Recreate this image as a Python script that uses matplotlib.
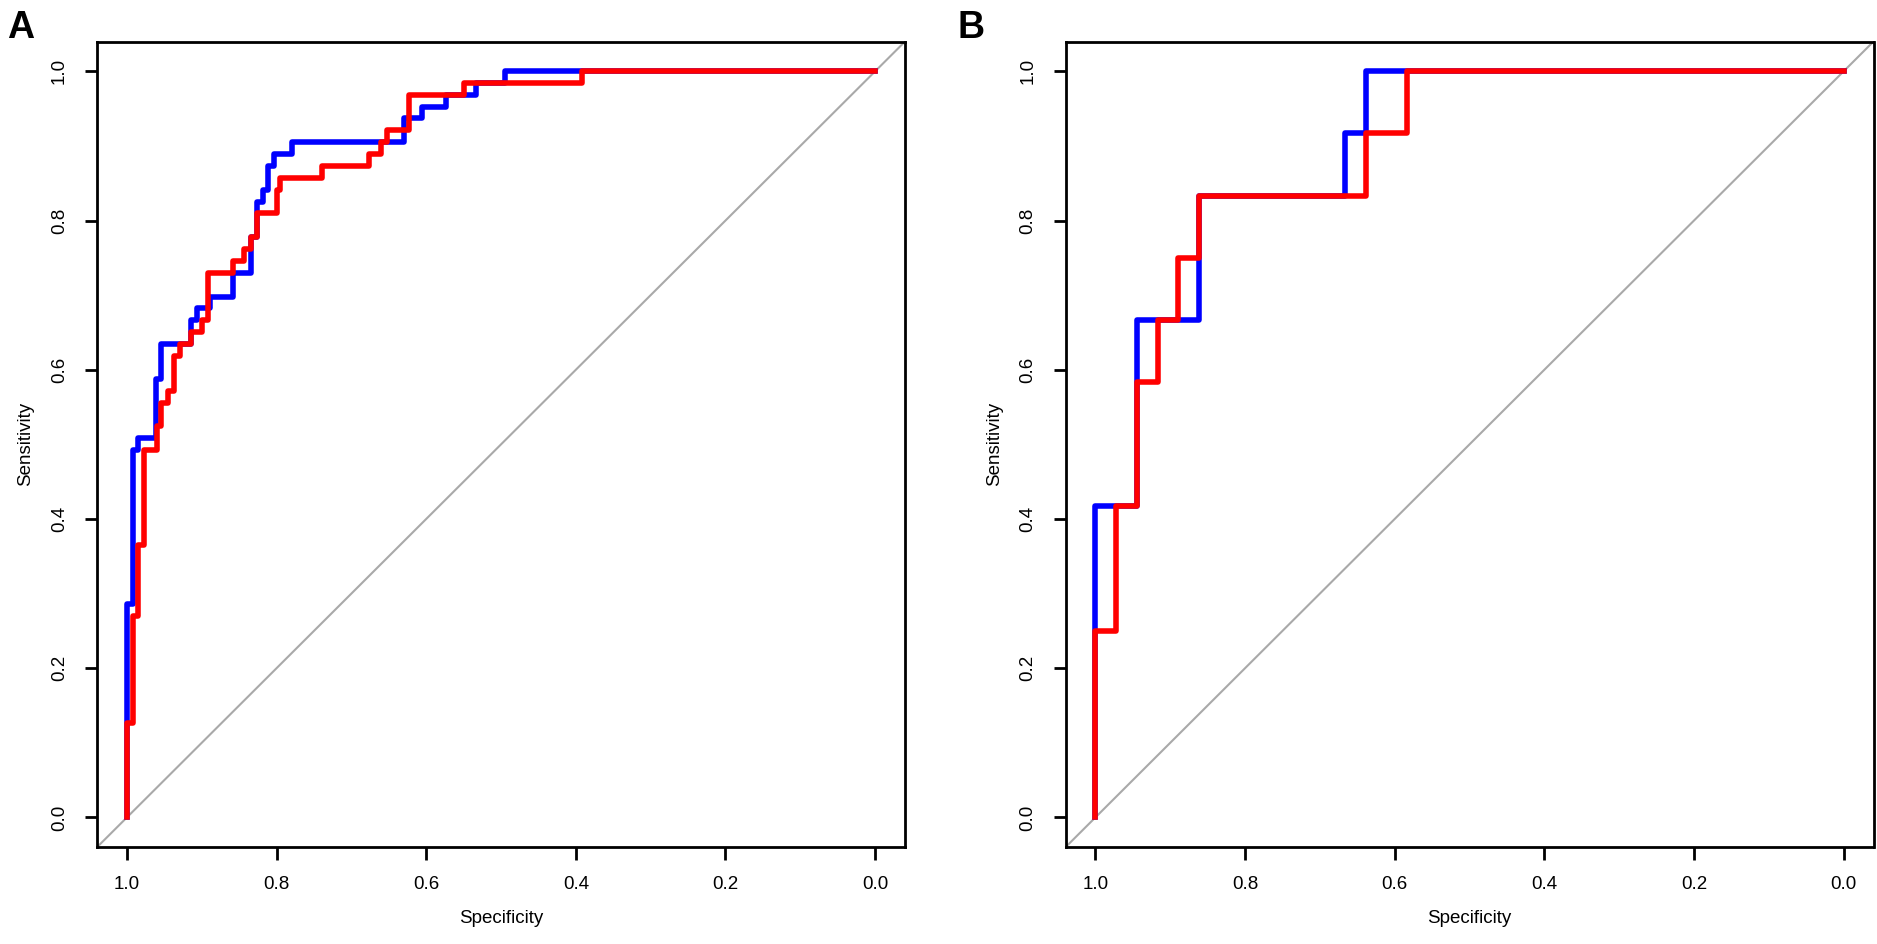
import matplotlib
matplotlib.use("Agg")
import matplotlib.pyplot as plt

plt.rcParams['font.family'] = ['Liberation Sans', 'DejaVu Sans']

# panel A: ROC curves (specificity, sensitivity)
a_blue_spec = [1.0, 1.0, 0.992, 0.992, 0.985, 0.985, 0.961, 0.961, 0.954, 0.954,
               0.914, 0.914, 0.906, 0.906, 0.889, 0.889, 0.858, 0.858, 0.834, 0.834,
               0.826, 0.826, 0.818, 0.818, 0.811, 0.811, 0.804, 0.804, 0.779, 0.779,
               0.629, 0.629, 0.606, 0.606, 0.574, 0.574, 0.534, 0.534, 0.495, 0.495, 0.0]
a_blue_sens = [0.0, 0.286, 0.286, 0.492, 0.492, 0.508, 0.508, 0.587, 0.587, 0.635,
               0.635, 0.667, 0.667, 0.683, 0.683, 0.698, 0.698, 0.730, 0.730, 0.778,
               0.778, 0.825, 0.825, 0.841, 0.841, 0.873, 0.873, 0.889, 0.889, 0.905,
               0.905, 0.937, 0.937, 0.952, 0.952, 0.968, 0.968, 0.984, 0.984, 1.0, 1.0]

a_red_spec = [1.0, 1.0, 0.992, 0.992, 0.985, 0.985, 0.977, 0.977, 0.960, 0.960,
              0.954, 0.954, 0.945, 0.945, 0.937, 0.937, 0.929, 0.929, 0.914, 0.914,
              0.899, 0.899, 0.892, 0.892, 0.858, 0.858, 0.843, 0.843, 0.834, 0.834,
              0.826, 0.826, 0.800, 0.800, 0.796, 0.796, 0.739, 0.739, 0.677, 0.677,
              0.660, 0.660, 0.653, 0.653, 0.623, 0.623, 0.549, 0.549, 0.392, 0.392, 0.0]
a_red_sens = [0.0, 0.127, 0.127, 0.270, 0.270, 0.365, 0.365, 0.492, 0.492, 0.524,
              0.524, 0.556, 0.556, 0.571, 0.571, 0.619, 0.619, 0.635, 0.635, 0.651,
              0.651, 0.667, 0.667, 0.730, 0.730, 0.746, 0.746, 0.762, 0.762, 0.778,
              0.778, 0.810, 0.810, 0.841, 0.841, 0.857, 0.857, 0.873, 0.873, 0.889,
              0.889, 0.905, 0.905, 0.921, 0.921, 0.968, 0.968, 0.984, 0.984, 1.0, 1.0]

# panel B
b_blue_spec = [1.0, 1.0, 0.944, 0.944, 0.861, 0.861, 0.667, 0.667, 0.639, 0.639, 0.0]
b_blue_sens = [0.0, 0.417, 0.417, 0.667, 0.667, 0.833, 0.833, 0.917, 0.917, 1.0, 1.0]

b_red_spec = [1.0, 1.0, 0.972, 0.972, 0.944, 0.944, 0.917, 0.917, 0.889, 0.889,
              0.861, 0.861, 0.639, 0.639, 0.583, 0.583, 0.0]
b_red_sens = [0.0, 0.25, 0.25, 0.417, 0.417, 0.583, 0.583, 0.667, 0.667, 0.75,
              0.75, 0.833, 0.833, 0.917, 0.917, 1.0, 1.0]

ticks = [1.0, 0.8, 0.6, 0.4, 0.2, 0.0]
tick_labels = ["1.0", "0.8", "0.6", "0.4", "0.2", "0.0"]
panels = [("A", a_blue_spec, a_blue_sens, a_red_spec, a_red_sens),
          ("B", b_blue_spec, b_blue_sens, b_red_spec, b_red_sens)]

fig = plt.figure(figsize=(18.77, 9.44), dpi=100)
lefts = [97 / 1877, 1065.5 / 1877]
letter_x = [7 / 1877, 958 / 1877]

for i, (name, bs, bv, rs, rv) in enumerate(panels):
    ax = fig.add_axes([lefts[i], 0.1025, 808 / 1877, 0.8535])
    ax.axline((1.0, 0.0), (0.0, 1.0), color="#A9A9A9", lw=1.5, zorder=1)
    ax.plot(bs, bv, color="#0000FF", lw=4, solid_joinstyle="round", zorder=2)
    ax.plot(rs, rv, color="#FF0000", lw=4, solid_joinstyle="round", zorder=3)
    ax.set_xlim(1.04, -0.04)
    ax.set_ylim(-0.04, 1.04)
    ax.set_xticks(ticks)
    ax.set_xticklabels(tick_labels)
    ax.set_yticks(ticks)
    ax.set_yticklabels(tick_labels)
    for s in ax.spines.values():
        s.set_linewidth(2)
    ax.tick_params(axis="both", length=9, width=2, labelsize=13.5)
    ax.tick_params(axis="x", pad=12)
    ax.tick_params(axis="y", pad=18)
    plt.setp(ax.get_yticklabels(), rotation=90, va="center", ha="center")
    ax.set_xlabel("Specificity", fontsize=13.5, labelpad=12)
    ax.set_ylabel("Sensitivity", fontsize=13.5, labelpad=12)
    fig.text(letter_x[i], 1 - 10 / 944, name, fontsize=27, fontweight="bold",
             ha="left", va="top")

fig.savefig("out.png", dpi=100)
